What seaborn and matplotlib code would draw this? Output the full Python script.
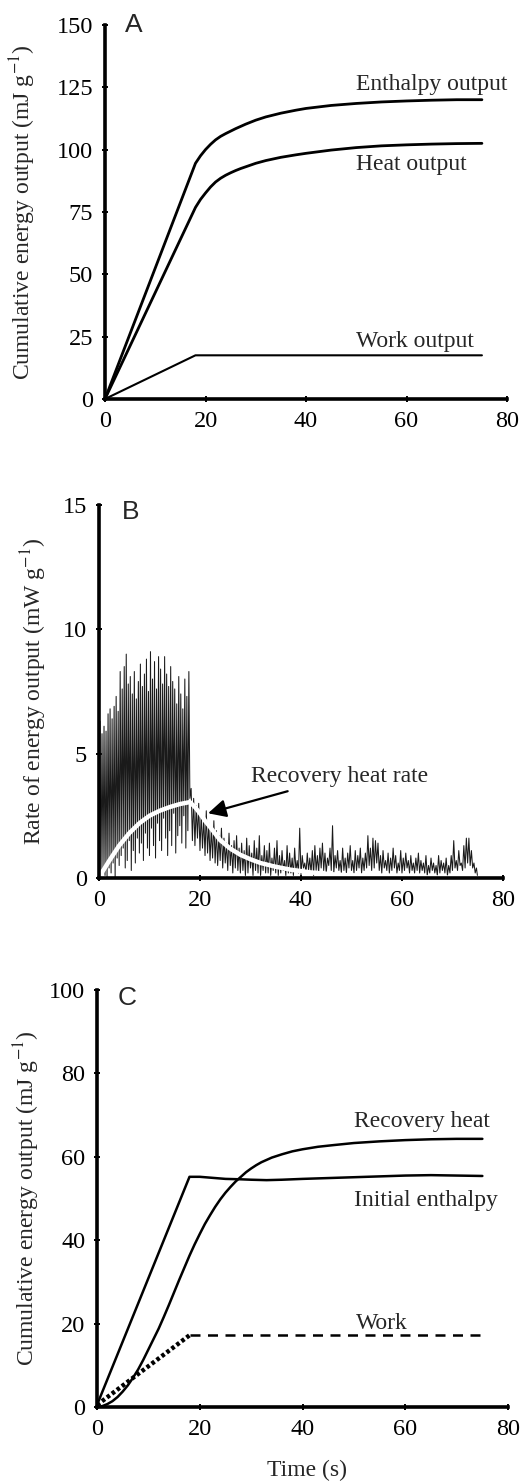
import numpy as np
import matplotlib
matplotlib.use("Agg")
import matplotlib.pyplot as plt
import seaborn as sns

sns.set_style("ticks")
plt.rcParams["font.family"] = ["Liberation Serif", "DejaVu Serif"]
plt.rcParams["mathtext.fontset"] = "stix"

# ---- Panel A: cumulative energy output
a_t = [0, 18, 19, 20, 21, 22, 23, 24, 25, 26, 27, 28, 30, 32, 35, 38, 40, 45, 50,
       55, 60, 65, 70, 75]
a_enthalpy = [0, 94.5, 97.5, 100, 102.1, 103.9, 105.3, 106.4, 107.4, 108.4, 109.3, 110.2,
              111.8, 113.1, 114.6, 115.8, 116.5, 117.7, 118.5, 119.1, 119.5, 119.8, 120, 120]
a_heat = [0, 76.8, 80, 82.6, 85, 87, 88.5, 89.7, 90.7, 91.6, 92.4, 93.1, 94.5, 95.6,
          96.9, 97.9, 98.5, 99.8, 100.8, 101.5, 101.9, 102.2, 102.4, 102.5]
a_work_t = [0, 18, 75]
a_work = [0, 17.5, 17.5]

# ---- Panel B: rate of energy output (stimulation phase, then recovery phase)
b_stim_peaks = [6.3, 5.8, 6.1, 5.9, 6.6, 6.8, 6.4, 6.9, 7.3, 6.7,
                8.3, 7.6, 8.5, 9.0, 7.8, 8.1, 7.4, 8.3, 7.2, 7.9,
                8.6, 7.7, 8.2, 8.8, 7.5, 9.1, 8.0, 8.7, 7.6, 8.9,
                8.4, 7.8, 8.9, 8.2, 7.7, 8.5, 7.9, 7.6, 7.0, 8.1,
                7.4, 6.8, 8.0, 7.3, 8.3]
b_stim_troughs = [0.0, 0.3, 0.1, 0.0, 0.4, 0.2, 0.6, 0.0, 0.8, 0.5,
                  0.9, 1.2, 0.4, 0.7, 1.5, 0.3, 1.1, 0.6, 1.6, 1.0,
                  1.4, 0.7, 1.8, 1.2, 0.9, 2.0, 1.3, 0.8, 2.2, 1.5,
                  1.1, 2.4, 1.6, 0.9, 1.9, 1.3, 2.6, 1.0, 1.7, 2.1,
                  1.4, 2.5, 1.2, 1.9, 3.2]
b_rec_peaks = [3.6, 3.2, 2.9, 3.0, 2.6, 2.4, 2.7, 2.2, 2.0, 2.3,
               1.9, 1.7, 2.0, 1.6, 1.4, 1.8, 1.3, 1.5, 1.7, 1.2,
               1.4, 1.1, 1.6, 1.3, 1.0, 1.5, 1.2, 1.7, 0.9, 1.3,
               1.1, 1.4, 0.8, 1.2, 1.5, 0.9, 1.1, 0.7, 1.3, 1.0,
               0.8, 1.2, 0.7, 2.0, 0.9, 0.6, 1.0, 0.8, 1.1, 1.3,
               0.9, 1.2, 1.4, 1.0, 0.8, 1.2, 2.1, 0.9, 1.1, 0.7,
               1.2, 0.8, 1.0, 1.3, 0.7, 1.1, 0.9, 1.2, 0.8, 1.0,
               1.7, 1.2, 1.6, 1.5, 1.4, 0.9, 1.1, 0.7, 1.0, 0.8,
               1.2, 0.9, 0.6, 1.1, 0.8, 1.0, 0.7, 0.9, 0.6, 0.8,
               1.0, 0.7, 0.6, 0.9, 0.5, 0.8, 0.6, 0.5, 0.9, 0.7,
               0.6, 0.8, 0.5, 0.9, 1.5, 0.7, 1.1, 0.6, 1.3, 1.6,
               1.6, 1.1, 0.6, 0.4]
b_rec_troughs = [1.5, 1.3, 1.6, 1.1, 1.2, 0.9, 1.0, 0.7, 0.8, 0.6,
                 0.5, 0.7, 0.4, 0.6, 0.3, 0.5, 0.2, 0.4, 0.3, 0.2,
                 0.3, 0.1, 0.2, 0.4, 0.1, 0.3, 0.2, 0.1, 0.3, 0.2,
                 0.2, 0.1, 0.3, 0.2, 0.1, 0.2, 0.3, 0.1, 0.2, 0.2,
                 0.1, 0.3, 0.2, 0.1, 0.4, 0.2, 0.3, 0.2, 0.1, 0.3,
                 0.2, 0.4, 0.3, 0.2, 0.5, 0.3, 0.2, 0.4, 0.3, 0.2,
                 0.3, 0.2, 0.4, 0.3, 0.2, 0.3, 0.4, 0.2, 0.3, 0.4,
                 0.5, 0.3, 0.4, 0.6, 0.3, 0.2, 0.4, 0.3, 0.2, 0.3,
                 0.4, 0.2, 0.3, 0.2, 0.3, 0.4, 0.2, 0.3, 0.2, 0.3,
                 0.2, 0.3, 0.2, 0.1, 0.2, 0.3, 0.2, 0.1, 0.2, 0.3,
                 0.2, 0.1, 0.2, 0.3, 0.4, 0.3, 0.5, 0.3, 0.4, 0.6,
                 0.5, 0.4, 0.2, 0.0]
b_rate_t = [0, 1, 2, 4, 6, 8, 10, 12, 14, 16, 18, 19, 20, 21, 22, 24, 26, 28, 30,
            32, 35, 38, 42, 46, 50, 55, 60, 65, 70, 75]
b_recovery_rate = [0.05, 0.35, 0.68, 1.3, 1.8, 2.2, 2.5, 2.7, 2.85, 2.97, 3.05, 2.85, 2.6,
                   2.3, 2.05, 1.52, 1.18, 0.93, 0.75, 0.6, 0.45, 0.33, 0.22, 0.15, 0.1,
                   0.06, 0.04, 0.02, 0.01, 0.0]

# ---- Panel C: partitioned energy output
c_t = [0, 1, 2, 3, 4, 5, 6, 7, 8, 9, 10, 11, 12, 13, 14, 15, 16, 17, 18, 19, 20,
       21, 22, 23, 24, 25, 26, 27, 28, 29, 30, 31, 32, 34, 36, 38, 40, 43, 46, 50,
       55, 60, 65, 70, 75]
c_recovery = [0, 0.2, 0.7, 1.4, 2.4, 3.7, 5.2, 7.0, 9.0, 11.3, 13.8, 16.3, 18.8, 21.6,
              24.5, 27.5, 30.5, 33.4, 36.3, 39.0, 41.5, 43.9, 46.0, 48.0, 49.8, 51.4,
              52.8, 54.1, 55.2, 56.3, 57.2, 58.0, 58.7, 59.8, 60.6, 61.3, 61.8, 62.4,
              62.8, 63.3, 63.7, 64.0, 64.2, 64.3, 64.3]
c_init_t = [0, 18, 20, 22, 25, 28, 30, 33, 36, 40, 45, 50, 55, 60, 65, 70, 75]
c_initial = [0.5, 55.2, 55.2, 55.0, 54.7, 54.6, 54.5, 54.4, 54.5, 54.7, 54.9, 55.1, 55.3,
             55.5, 55.6, 55.5, 55.4]
c_work_t = [0, 18, 75]
c_work = [0.5, 17.2, 17.2]

# build the oscillating trace for panel B (peaks and troughs alternate)
stim_pt = np.arange(len(b_stim_peaks)) * 0.4 + 0.2
rec_pt = np.arange(len(b_rec_peaks)) * 0.5 + 18.25
b_time = [0.0]
b_rate = [0.0]
for tp, p, tr in zip(stim_pt, b_stim_peaks, b_stim_troughs):
    b_time += [tp, tp + 0.2]
    b_rate += [p, tr]
for tp, p, tr in zip(rec_pt, b_rec_peaks, b_rec_troughs):
    b_time += [tp, tp + 0.25]
    b_rate += [p, tr]

fig = plt.figure(figsize=(5.29, 14.82), dpi=100)
axA = fig.add_axes([0.1985, 0.7308, 0.760, 0.2524])
axB = fig.add_axes([0.1871, 0.4076, 0.7637, 0.2517])
axC = fig.add_axes([0.1834, 0.0506, 0.777, 0.2814])

fs = 17.5   # tick labels
fa = 17     # annotations and axis labels


def style(ax, ymax, yticks, letter, lx, ly, ylab_x):
    ax.set_xlim(0, 80)
    ax.set_ylim(0, ymax)
    ax.set_xticks([0, 20, 40, 60, 80])
    ax.set_yticks(yticks)
    for s in ["top", "right"]:
        ax.spines[s].set_visible(False)
    for s in ["left", "bottom"]:
        ax.spines[s].set_linewidth(2.6)
        ax.spines[s].set_color("black")
    ax.tick_params(direction="inout", length=5, width=1.4, labelsize=fs, pad=6, colors="black")
    ax.set_xlabel("")
    ax.set_ylabel(ax.get_ylabel(), fontsize=fa)
    ax.yaxis.set_label_coords(ylab_x, 0.5)
    ax.text(lx, ly, letter, transform=ax.transAxes, fontsize=19,
            family=["Liberation Sans", "DejaVu Sans"], va="baseline", ha="left")


# Panel A
sns.lineplot(x=a_t, y=a_enthalpy, ax=axA, color="black", lw=2.0, estimator=None)
sns.lineplot(x=a_t, y=a_heat, ax=axA, color="black", lw=2.0, estimator=None)
sns.lineplot(x=a_work_t, y=a_work, ax=axA, color="black", lw=1.5, estimator=None)
axA.set_ylabel(r"Cumulative energy output (mJ g$^{-1}$)")
style(axA, 150, [0, 25, 50, 75, 100, 125, 150], "A", 0.05, 0.981, -0.166)
axA.text(50, 124, "Enthalpy output", fontsize=fa, va="baseline")
axA.text(50, 92, "Heat output", fontsize=fa, va="baseline")
axA.text(50, 21, "Work output", fontsize=fa, va="baseline")

# Panel B
sns.lineplot(x=b_time, y=b_rate, ax=axB, color="#1a1a1a", lw=0.75, estimator=None, sort=False)
sns.lineplot(x=b_rate_t, y=b_recovery_rate, ax=axB, color="white", lw=3.2, estimator=None)
axB.set_ylabel(r"Rate of energy output (mW g$^{-1}$)")
style(axB, 15, [0, 5, 10, 15], "B", 0.057, 0.962, -0.123)
axB.annotate("Recovery heat rate", xy=(21.6, 2.6), xytext=(30.2, 3.85),
             fontsize=fa, va="baseline",
             arrowprops=dict(arrowstyle="-|>", mutation_scale=27, lw=1.6,
                             color="black", shrinkA=2, shrinkB=0))

# Panel C
sns.lineplot(x=c_init_t, y=c_initial, ax=axC, color="black", lw=1.8, estimator=None)
sns.lineplot(x=c_t, y=c_recovery, ax=axC, color="black", lw=1.8, estimator=None)
sns.lineplot(x=c_work_t[:2], y=c_work[:2], ax=axC, color="black", lw=3.2,
             linestyle=(0, (0.8, 0.6)), estimator=None)
sns.lineplot(x=c_work_t[1:], y=c_work[1:], ax=axC, color="black", lw=1.8,
             linestyle=(0, (4, 3)), estimator=None)
axC.set_ylabel(r"Cumulative energy output (mJ g$^{-1}$)")
style(axC, 100, [0, 20, 40, 60, 80, 100], "C", 0.051, 0.964, -0.135)
axC.set_xlabel("Time (s)", fontsize=fa)
axC.xaxis.set_label_coords(0.511, -0.127)
axC.text(50.1, 67.2, "Recovery heat", fontsize=fa, va="baseline")
axC.text(50.1, 48.2, "Initial enthalpy", fontsize=fa, va="baseline")
axC.text(50.4, 18.8, "Work", fontsize=fa, va="baseline")

fig.savefig("out.png", dpi=100)
